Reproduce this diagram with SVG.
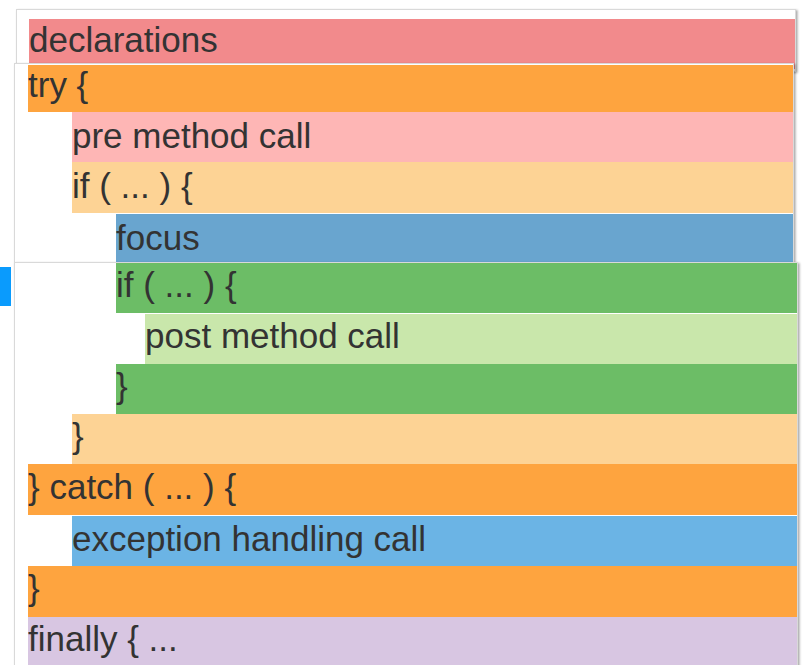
<svg xmlns="http://www.w3.org/2000/svg" width="804" height="665" viewBox="0 0 804 665">
  <style>
    .panel { fill: #ffffff; stroke: #d9d9d9; stroke-width: 1; filter: url(#shadow); }
    .code { font-family: "Liberation Sans", Arial, Helvetica, sans-serif; font-size: 35px; fill: #333333; }
    .decl { fill: #f28a8c; }
    .blk { fill: #fea43f; }
    .pre { fill: #feb6b5; }
    .cond { fill: #fdd395; }
    .focus { fill: #69a5cf; }
    .inner { fill: #6cbd66; }
    .post { fill: #c9e7ab; }
    .exc { fill: #6bb4e5; }
    .fin { fill: #d8c6e2; }
  </style>
  <defs>
    <filter id="shadow" x="-5%" y="-5%" width="110%" height="115%">
      <feDropShadow dx="1.5" dy="1" stdDeviation="1.2" flood-color="#000000" flood-opacity="0.35"/>
    </filter>
  </defs>

  <rect width="804" height="665" fill="#ffffff"/>

  <!-- side marker -->
  <rect id="marker" x="0" y="267" width="11" height="39" fill="#0a9bfd"/>

  <!-- panel 1: declarations -->
  <g id="panel-declarations">
    <rect class="panel" x="16.5" y="9.5" width="779" height="62"/>
    <g id="row-declarations">
      <rect class="decl" x="29" y="19" width="766" height="50"/>
      <text class="code" x="29" y="52">declarations</text>
    </g>
  </g>

  <!-- panel 2: try block up to focus -->
  <g id="panel-try">
    <rect class="panel" x="14.5" y="63.5" width="779" height="210"/>
    <g id="row-try">
      <rect class="blk" x="28" y="65" width="765" height="47"/>
      <text class="code" x="28" y="97">try {</text>
    </g>
    <g id="row-pre">
      <rect class="pre" x="72" y="112" width="721" height="50"/>
      <text class="code" x="72" y="148">pre method call</text>
    </g>
    <g id="row-if-outer">
      <rect class="cond" x="72" y="162" width="721" height="51"/>
      <text class="code" x="72" y="198">if ( ... ) {</text>
    </g>
    <g id="row-focus">
      <rect class="focus" x="116" y="214" width="677" height="48"/>
      <text class="code" x="116" y="250">focus</text>
    </g>
  </g>

  <!-- panel 3: remainder of the method -->
  <g id="panel-rest">
    <rect class="panel" x="14.5" y="262.5" width="783" height="420"/>
    <g id="row-if-inner">
      <rect class="inner" x="116" y="263" width="681" height="50"/>
      <text class="code" x="116" y="297">if ( ... ) {</text>
    </g>
    <g id="row-post">
      <rect class="post" x="145" y="314" width="652" height="50"/>
      <text class="code" x="145" y="348">post method call</text>
    </g>
    <g id="row-if-inner-end">
      <rect class="inner" x="116" y="364" width="681" height="50"/>
      <text class="code" x="116" y="398">}</text>
    </g>
    <g id="row-if-outer-end">
      <rect class="cond" x="72" y="414" width="725" height="50"/>
      <text class="code" x="72" y="448">}</text>
    </g>
    <g id="row-catch">
      <rect class="blk" x="28" y="464" width="769" height="51"/>
      <text class="code" x="28" y="499">} catch ( ... ) {</text>
    </g>
    <g id="row-exception">
      <rect class="exc" x="72" y="516" width="725" height="50"/>
      <text class="code" x="72" y="551">exception handling call</text>
    </g>
    <g id="row-catch-end">
      <rect class="blk" x="28" y="566" width="769" height="51"/>
      <text class="code" x="28" y="600">}</text>
    </g>
    <g id="row-finally">
      <rect class="fin" x="28" y="617" width="769" height="60"/>
      <text class="code" x="28" y="651">finally { ...</text>
    </g>
  </g>
</svg>
